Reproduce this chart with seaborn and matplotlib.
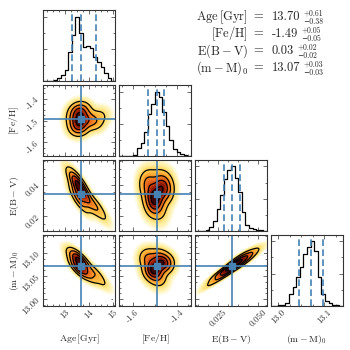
import numpy as np
import pandas as pd
import matplotlib
matplotlib.use("Agg")
import matplotlib.pyplot as plt
from matplotlib.colors import LinearSegmentedColormap
from matplotlib.ticker import FixedLocator, FixedFormatter, AutoMinorLocator
import seaborn as sns

# ---- parameters / axes
names = ["age", "feh", "ebv", "dm"]
axis_labels = [r"$\mathrm{Age\,[Gyr]}$", r"$\mathrm{[Fe/H]}$",
               r"$\mathrm{E(B-V)}$", r"$\mathrm{(m-M)_0}$"]
limits = [(12.1, 15.1), (-1.662, -1.338), (0.0106, 0.0556), (12.985, 13.14)]
truths = [13.70, -1.493, 0.034, 13.072]
quant_lo = [13.32, -1.53, 0.029, 13.045]
quant_hi = [14.31, -1.46, 0.039, 13.097]

x_ticks = [[13, 14, 15], [-1.6, -1.4], [0.025, 0.050], [13.0, 13.1]]
x_ticklabels = [["13", "14", "15"], ["-1.6", "-1.4"], ["0.025", "0.050"], ["13.0", "13.1"]]
y_ticks = [None, [-1.6, -1.5, -1.4], [0.02, 0.04], [13.00, 13.05, 13.10]]
y_ticklabels = [None, ["-1.6", "-1.5", "-1.4"], ["0.02", "0.04"], ["13.00", "13.05", "13.10"]]

# ---- 1-D marginals: relative bin heights, 20 bins over each range
hist_age = [0, 0, 0.01, 0.02, 0.05, 0.10, 0.18, 0.45, 0.72, 1.0,
            0.75, 0.53, 0.55, 0.52, 0.38, 0.30, 0.22, 0.12, 0.05, 0.01]
hist_feh = [0, 0, 0, 0, 0.02, 0.12, 0.20, 0.38, 0.65, 0.80,
            1.0, 0.92, 0.68, 0.46, 0.25, 0.11, 0.06, 0.03, 0.01, 0]
hist_ebv = [0, 0, 0, 0.02, 0.06, 0.16, 0.34, 0.55, 0.80, 0.95,
            1.0, 0.82, 0.60, 0.30, 0.10, 0.05, 0.03, 0.02, 0.01, 0]
hist_dm = [0, 0, 0.01, 0.02, 0.05, 0.18, 0.30, 0.45, 0.60, 0.80,
           0.92, 1.0, 0.85, 0.45, 0.18, 0.07, 0.04, 0.02, 0.01, 0]
hists = [hist_age, hist_feh, hist_ebv, hist_dm]

# ---- representative posterior points for the 2-D densities
pts_age = [13.55, 13.60, 13.65, 13.62, 13.70, 13.58, 14.00, 14.25, 14.50, 13.38]
pts_feh = [-1.463, -1.519, -1.484, -1.501, -1.452, -1.533, -1.494, -1.508, -1.477, -1.491]
pts_ebv = [0.0402, 0.0340, 0.0371, 0.0302, 0.0359, 0.0415, 0.0290, 0.0271, 0.0228, 0.0440]
pts_dm = [13.079, 13.067, 13.086, 13.065, 13.077, 13.090, 13.054, 13.058, 13.040, 13.092]
pts_w = [1.0, 1.0, 1.0, 1.0, 1.0, 1.0, 0.8, 0.6, 0.3, 0.3]

# ---- summary text
summary_vals = ["13.70", "-1.49", "0.03", "13.07"]
summary_up = ["+0.61", "+0.05", "+0.02", "+0.03"]
summary_dn = ["\u22120.38", "\u22120.05", "\u22120.02", "\u22120.03"]

blue = "#4682b4"
halo = LinearSegmentedColormap.from_list(
    "halo", [(0.0, "#ffffff"), (0.003, "#fffcea"), (0.015, "#fff3b8"),
             (0.06, "#ffe27a"), (0.14, "#ffc445"), (0.28, "#fb9a28"),
             (0.48, "#e5621a"), (0.68, "#b02800"), (0.86, "#620a00"),
             (1.0, "#2a0000")])
fill_levels = list(np.geomspace(0.0002, 1.0, 70))
line_levels = [0.07, 0.25, 0.5, 0.8]

sns.set_style("ticks")
plt.rcParams["font.family"] = ["cmr10", "DejaVu Serif"]
plt.rcParams["mathtext.fontset"] = "cm"
plt.rcParams["axes.unicode_minus"] = False
plt.rcParams["axes.formatter.use_mathtext"] = True

df = pd.DataFrame({"age": pts_age, "feh": pts_feh, "ebv": pts_ebv,
                   "dm": pts_dm, "w": pts_w})

fig, axes = plt.subplots(4, 4, figsize=(3.5, 3.5), dpi=100)
fig.subplots_adjust(left=0.123, right=0.98, bottom=0.126, top=0.971,
                    wspace=0.055, hspace=0.055)


def style_axis(ax, i, j):
    ax.tick_params(which="both", direction="in", top=True, right=True,
                   width=0.5, colors="#333333", labelsize=6.5, pad=1.5)
    ax.tick_params(which="major", length=2.8)
    ax.tick_params(which="minor", length=1.5)
    for s in ax.spines.values():
        s.set_linewidth(0.8)
        s.set_color("#333333")
    ax.xaxis.set_major_locator(FixedLocator(x_ticks[j]))
    ax.xaxis.set_minor_locator(AutoMinorLocator(4))
    if i == 3:
        ax.xaxis.set_major_formatter(FixedFormatter(x_ticklabels[j]))
        for lb in ax.get_xticklabels():
            lb.set_rotation(45)
        ax.set_xlabel(axis_labels[j], fontsize=7)
        ax.xaxis.set_label_coords(0.5, -0.38)
    else:
        ax.set_xticklabels([])
        ax.set_xlabel("")
    if i != j:
        ax.yaxis.set_major_locator(FixedLocator(y_ticks[i]))
        ax.yaxis.set_minor_locator(AutoMinorLocator(4))
        if j == 0:
            ax.yaxis.set_major_formatter(FixedFormatter(y_ticklabels[i]))
            for lb in ax.get_yticklabels():
                lb.set_rotation(45)
            ax.set_ylabel(axis_labels[i], fontsize=7)
            ax.yaxis.set_label_coords(-0.30, 0.5)
        else:
            ax.set_yticklabels([])
            ax.set_ylabel("")
    else:
        ax.yaxis.set_minor_locator(AutoMinorLocator(2))
        ax.set_yticklabels([])
        ax.set_ylabel("")


for i in range(4):
    for j in range(4):
        ax = axes[i, j]
        if j > i:
            ax.set_visible(False)
            continue
        if i == j:
            edges = np.linspace(limits[i][0], limits[i][1], len(hists[i]) + 1)
            hdf = pd.DataFrame({"x": 0.5 * (edges[:-1] + edges[1:]), "h": hists[i]})
            sns.histplot(data=hdf, x="x", weights="h", bins=list(edges), element="step",
                         fill=False, color="k", linewidth=0.9, ax=ax)
            for q in (quant_lo[i], truths[i], quant_hi[i]):
                ax.axvline(q, color=blue, ls=(0, (4, 2)), lw=1.2)
            ax.set_xlim(limits[i])
            ax.set_ylim(0, 1.1 * max(hists[i]))
        else:
            sns.kdeplot(data=df, x=names[j], y=names[i], weights="w", fill=True,
                        levels=fill_levels, cmap=halo, bw_adjust=1.2,
                        cut=8, ax=ax)
            sns.kdeplot(data=df, x=names[j], y=names[i], weights="w",
                        levels=line_levels, color="k",
                        linewidths=0.9, bw_adjust=1.2, ax=ax)
            ax.axvline(truths[j], color=blue, lw=1.2)
            ax.axhline(truths[i], color=blue, lw=1.2)
            ax.plot(truths[j], truths[i], "s", color=blue, ms=4)
            ax.set_xlim(limits[j])
            ax.set_ylim(limits[i])
        style_axis(ax, i, j)

# summary block: label = value with small up/down errors after the value
rows_y = [0.951, 0.903, 0.854, 0.806]
fig.canvas.draw()
renderer = fig.canvas.get_renderer()
W, H = fig.bbox.width, fig.bbox.height
for k in range(4):
    fig.text(0.709, rows_y[k], axis_labels[k], ha="right", va="center", fontsize=9)
    fig.text(0.737, rows_y[k], "=", ha="center", va="center", fontsize=9)
    tv = fig.text(0.777, rows_y[k], summary_vals[k], ha="left", va="center", fontsize=9)
    x_end = tv.get_window_extent(renderer).x1 / W + 0.009
    fig.text(x_end, rows_y[k] + 3.8 / H, summary_up[k], ha="left", va="center",
             fontsize=5.5)
    fig.text(x_end, rows_y[k] - 4.6 / H, summary_dn[k], ha="left", va="center",
             fontsize=5.5)

fig.savefig("out.png", dpi=100)
